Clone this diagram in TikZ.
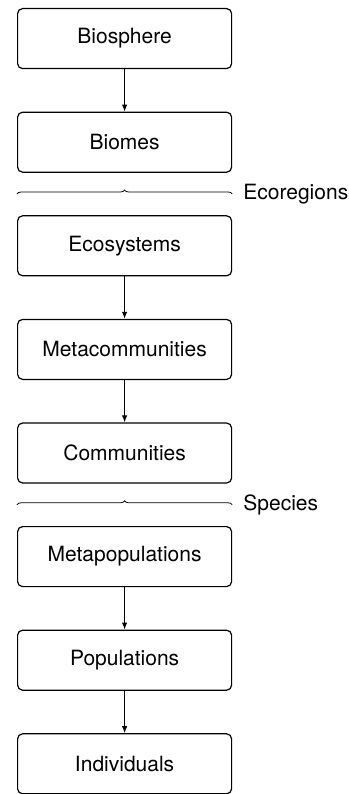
\documentclass[tikz,border=0pt]{standalone}
\usepackage{fontspec}
\setmainfont{TeX Gyre Heros}
\usetikzlibrary{arrows.meta,positioning,calc,decorations.pathreplacing}
\tikzset{
  lvl/.style={rectangle, rounded corners=5pt, draw, line width=1.2pt,
              align=center, font=\fontsize{21}{25}\selectfont,
              minimum width=214pt, minimum height=60pt, inner sep=0pt},
  larr/.style={-{Latex[length=7pt,width=5.5pt]}, line width=1.1pt},
  lbrace/.style={decorate, decoration={brace, amplitude=4pt}, line width=0.8pt},
  lgrp/.style={font=\fontsize{21}{25}\selectfont, anchor=west, inner sep=0pt},
}

\begin{document}
\begin{tikzpicture}[x=1pt,y=1pt,node distance=42.4pt]
        \useasboundingbox (0,0) rectangle (348,-794);
        \node[lvl,anchor=north west](bio) at (17,-8){Biosphere};
        \node[lvl,below=of bio](biom){Biomes};
        \node[lvl,below=of biom](eco){Ecosystems};
        \node[lvl,below=of eco](meta){Metacommunities};
        \node[lvl,below=of meta](com){Communities};
        \node[lvl,below=of com](mpop){Metapopulations};
        \node[lvl,below=of mpop](pop){Populations};
        \node[lvl,below=of pop](ind){Individuals};
        \draw[larr](bio)--(biom);\draw[larr](eco)--(meta);\draw[larr](meta)--(com);
        \draw[larr](mpop)--(pop);\draw[larr](pop)--(ind);
        % group braces
        \coordinate (ecol) at ($(biom.south west)!.5!(eco.north west)$);
        \coordinate (ecor) at ($(biom.south east)!.5!(eco.north east)$);
        \coordinate (spcl) at ($(com.south west)!.5!(mpop.north west)$);
        \coordinate (spcr) at ($(com.south east)!.5!(mpop.north east)$);
        \draw[lbrace](ecol)--(ecor);\draw[lbrace](spcl)--(spcr);
        \node[lgrp,right=11pt of ecor](ecoreg){Ecoregions};
        \node[lgrp,right=11pt of spcr](spc){Species};
    \end{tikzpicture}
\end{document}
